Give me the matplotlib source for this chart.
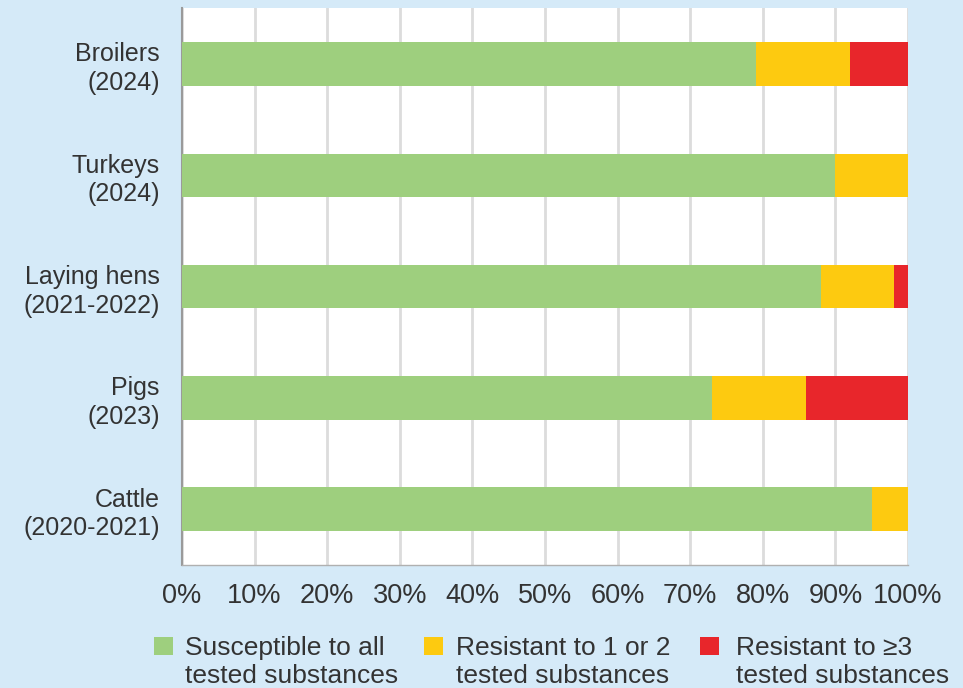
import numpy as np
import matplotlib.pyplot as plt
from matplotlib.patches import Rectangle

categories = ["Broilers\n(2024)", "Turkeys\n(2024)", "Laying hens\n(2021-2022)",
              "Pigs\n(2023)", "Cattle\n(2020-2021)"]
susceptible = [79, 90, 88, 73, 95]
resist_1_2 = [13, 10, 10, 13, 5]
resist_3 = [8, 0, 2, 14, 0]
xticks = np.arange(0, 101, 10)
series_names = ["Susceptible to all\ntested substances",
                "Resistant to 1 or 2\ntested substances",
                "Resistant to \u22653\ntested substances"]
colors = ["#9ecf7e", "#fdca10", "#e8262b"]

plt.rcParams['font.family'] = ['Liberation Sans', 'DejaVu Sans']
bg = "#d5eaf8"
txt = "#333333"
W, H = 963, 688

fig = plt.figure(figsize=(9.63, 6.88), dpi=100, facecolor=bg)
ax = fig.add_axes([0.189, 0.179, 0.754, 0.809])
ax.set_facecolor("white")

y = np.arange(len(categories))
left = np.zeros(len(categories))
for vals, c in zip([susceptible, resist_1_2, resist_3], colors):
    ax.barh(y, vals, left=left, height=0.39, color=c, zorder=3)
    left += np.array(vals)

ax.set_ylim(len(categories) - 0.5, -0.5)
ax.set_xlim(0, 100)
ax.set_xticks(xticks)
ax.set_xticklabels([f"{v}%" for v in xticks], fontsize=19.5, color=txt)
ax.set_yticks(y)
ax.set_yticklabels(categories, fontsize=18, color=txt, linespacing=1.25)
ax.tick_params(axis='x', length=0, pad=13)
ax.tick_params(axis='y', length=0, pad=16)
ax.grid(axis='x', color="#dcdcdc", linewidth=2, zorder=0)
for s in ["top", "right"]:
    ax.spines[s].set_visible(False)
ax.spines["left"].set_color("#9a9a9a")
ax.spines["left"].set_linewidth(1.5)
ax.spines["bottom"].set_color("#b0b0b0")
ax.spines["bottom"].set_linewidth(1)

# legend below the plot: square beside the first line of each two-line label
sq_x = [154, 424, 700]
txt_x = [185, 456, 736]
for x0, tx, name, c in zip(sq_x, txt_x, series_names, colors):
    fig.patches.append(Rectangle((x0 / W, 1 - 655 / H), 19 / W, 18 / H,
                                 transform=fig.transFigure, facecolor=c,
                                 edgecolor="none"))
    fig.text(tx / W, 1 - 662 / H, name, fontsize=19, color=txt,
             ha="left", va="center", linespacing=1.26)

fig.savefig("out.png", dpi=100, facecolor=bg)
